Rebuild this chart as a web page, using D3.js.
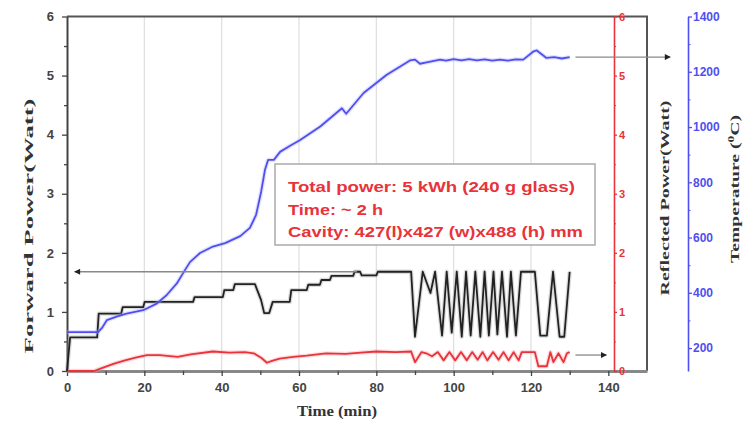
<!DOCTYPE html>
<html>
<head>
<meta charset="utf-8">
<script src="https://cdn.jsdelivr.net/npm/d3@7"></script>
<style>
  body { margin: 0; background: #fff; }
  svg { display: block; }
</style>
</head>
<body>
<div id="chart"></div>
<script>
// ---- data ----
const forwardTime  = [0, 0.8, 7.8, 8.2, 14, 14.4, 19.7, 20.1, 32.6, 33, 40.3, 40.7, 43, 43.4, 48.6, 50.2, 51, 52.3, 53.2, 57.6, 58, 62, 62.4, 65.4, 65.8, 68, 68.4, 74, 74.4, 75.8, 76.2, 80, 80.4, 89,
  90, 92, 94, 95.2, 97, 98.2, 99.5, 100.8, 102.1, 103.2, 104.4, 105.6, 106.9, 108, 109.1, 110.3, 111.3, 112.5, 113.8, 114.8, 116.1, 117.4, 121, 122.4, 124.1, 125.7, 127.4, 128.6, 130];
const forwardPower = [0, 0.57, 0.57, 0.97, 0.97, 1.08, 1.08, 1.17, 1.17, 1.25, 1.25, 1.37, 1.37, 1.47, 1.47, 1.2, 0.98, 0.98, 1.17, 1.17, 1.37, 1.37, 1.46, 1.46, 1.54, 1.54, 1.61, 1.61, 1.68, 1.68, 1.62, 1.62, 1.68, 1.68,
  0.58, 1.68, 1.32, 1.68, 0.6, 1.68, 0.65, 1.68, 0.58, 1.68, 0.6, 1.68, 0.58, 1.68, 0.6, 1.68, 0.62, 1.68, 0.58, 1.68, 0.6, 1.68, 1.68, 0.6, 0.6, 1.68, 0.58, 0.58, 1.68];

const reflectedTime  = [0, 7, 9, 12, 15, 18, 20.7, 24, 28.6, 32, 37.7, 42, 46, 48.3, 50.3, 51.7, 53, 55, 58.5, 62, 67, 72, 76, 80, 85, 89,
  90, 91.7, 92.9, 94.4, 95.9, 97.4, 98.9, 100.4, 101.9, 103.4, 104.8, 106.2, 107.5, 108.7, 110.2, 111.6, 112.9, 114.2, 115.5, 116.8, 117.6, 121, 121.9, 124.1, 125, 125.8, 127.1, 128.4, 129.3, 130];
const reflectedPower = [0, 0, 0.05, 0.12, 0.18, 0.23, 0.27, 0.27, 0.24, 0.28, 0.33, 0.31, 0.32, 0.3, 0.22, 0.14, 0.17, 0.21, 0.24, 0.26, 0.3, 0.29, 0.31, 0.33, 0.32, 0.33,
  0.15, 0.32, 0.3, 0.25, 0.32, 0.18, 0.32, 0.18, 0.32, 0.18, 0.32, 0.19, 0.32, 0.18, 0.32, 0.19, 0.32, 0.18, 0.32, 0.18, 0.32, 0.32, 0.08, 0.08, 0.32, 0.15, 0.3, 0.15, 0.3, 0.32];

const tempTime  = [0, 8, 9, 10.3, 13, 15.4, 19.7, 23.2, 25.8, 28.4, 30.5, 31.8, 34.4, 37.5, 40.9, 44.8, 47.3, 48.9, 50.2, 51.2, 52, 53.5, 55.1, 57.7, 60.3, 65.5, 71.1, 72.2, 76.7, 82.7, 88.7, 90, 91.3, 93, 96.5,
  98, 100, 102, 104, 106, 108, 110, 112, 114, 116, 118, 120.7, 121.5, 124, 126, 128, 130];
const temperature = [258, 258, 272, 301, 315, 325, 337, 361, 392, 434, 482, 511, 544, 566, 580, 605, 635, 682, 765, 845, 881, 881, 910, 932, 953, 1002, 1068, 1048, 1123, 1189, 1241, 1244, 1229, 1234, 1244,
  1240, 1246, 1241, 1246, 1241, 1245, 1240, 1244, 1240, 1245, 1244, 1274, 1277, 1250, 1253, 1248, 1253];

const xTicks = [0, 20, 40, 60, 80, 100, 120, 140];
const powerTicks = [0, 1, 2, 3, 4, 5, 6];
const tempTicks = [200, 400, 600, 800, 1000, 1200, 1400];
const notes = ["Total power: 5 kWh (240 g glass)", "Time: ~ 2 h", "Cavity: 427(l)x427 (w)x488 (h) mm"];

// ---- layout ----
const W = 752, H = 429;
const plotL = 67, plotR = 647, plotT = 16.5, plotB = 371;
const redAxisX = 614, blueAxisX = 688;

const svg = d3.select("#chart").append("svg").attr("width", W).attr("height", H);

const x = d3.scaleLinear().domain([0, 150]).range([plotL, plotR]);
const yL = d3.scaleLinear().domain([0, 6]).range([plotB, plotT]);
const yR = d3.scaleLinear().domain([0, 6]).range([plotB, plotT]);
const yT = d3.scaleLinear().domain([117, 1400]).range([plotB, plotT]);

const sans = "'Liberation Sans', Arial, sans-serif";
const serif = "'Liberation Serif', 'Times New Roman', serif";
const red = "#e8333b", blue = "#4f4ff0";
const fmt = d3.format("d");

// vertical grid
svg.append("g").selectAll("line").data([20, 40, 60, 80, 100, 120]).join("line")
  .attr("x1", d => x(d)).attr("x2", d => x(d))
  .attr("y1", plotT).attr("y2", plotB)
  .attr("stroke", "#dedede").attr("stroke-width", 1.2);

// frame top/right
svg.append("path")
  .attr("d", `M${plotL},${plotT}H${plotR}V${plotB}`)
  .attr("fill", "none").attr("stroke", "#555").attr("stroke-width", 2);

function styleAxis(g, color, size) {
  g.select(".domain").attr("stroke", color).attr("stroke-width", 2);
  g.selectAll(".tick line").attr("stroke", color).attr("stroke-width", 1.3);
  g.selectAll(".tick text").attr("fill", color).attr("font-family", sans)
    .attr("font-weight", "bold").attr("font-size", size);
}

// bottom axis
const gx = svg.append("g").attr("transform", `translate(0,${plotB})`)
  .call(d3.axisBottom(x).tickValues(xTicks).tickFormat(fmt).tickSize(5).tickSizeOuter(0).tickPadding(7));
styleAxis(gx, "#444", "13px");
gx.select(".domain").attr("stroke", "#888").attr("stroke-width", 3);
svg.append("g").attr("transform", `translate(0,${plotB})`)
  .call(d3.axisBottom(x).tickValues([10, 30, 50, 70, 90, 110, 130]).tickSize(4).tickFormat(""))
  .call(g => g.select(".domain").remove())
  .call(g => g.selectAll("line").attr("stroke", "#444").attr("stroke-width", 1.3));

// left axis
const gl = svg.append("g").attr("transform", `translate(${plotL},0)`)
  .call(d3.axisLeft(yL).tickValues(powerTicks).tickFormat(fmt).tickSize(5).tickSizeOuter(0).tickPadding(8));
styleAxis(gl, "#444", "13px");
svg.append("g").attr("transform", `translate(${plotL},0)`)
  .call(d3.axisLeft(yL).tickValues([0.5, 1.5, 2.5, 3.5, 4.5, 5.5]).tickSize(3).tickFormat(""))
  .call(g => g.select(".domain").remove())
  .call(g => g.selectAll("line").attr("stroke", "#444").attr("stroke-width", 1.3));

// red (reflected) axis
const gr = svg.append("g").attr("transform", `translate(${redAxisX},0)`)
  .call(d3.axisRight(yR).tickValues(powerTicks).tickFormat(fmt).tickSize(3).tickSizeOuter(0).tickPadding(2));
styleAxis(gr, red, "11px");
gr.select(".domain").attr("stroke-width", 1.6);
svg.append("g").attr("transform", `translate(${redAxisX},0)`)
  .call(d3.axisRight(yR).tickValues([0.5, 1.5, 2.5, 3.5, 4.5, 5.5]).tickSize(2).tickFormat(""))
  .call(g => g.select(".domain").remove())
  .call(g => g.selectAll("line").attr("stroke", red));

// blue (temperature) axis
const gt = svg.append("g").attr("transform", `translate(${blueAxisX},0)`)
  .call(d3.axisRight(yT).tickValues(tempTicks).tickFormat(fmt).tickSize(4).tickSizeOuter(0).tickPadding(1));
styleAxis(gt, blue, "12px");
gt.select(".domain").attr("stroke-width", 1.6);
svg.append("g").attr("transform", `translate(${blueAxisX},0)`)
  .call(d3.axisRight(yT).tickValues([300, 500, 700, 900, 1100, 1300]).tickSize(2.5).tickFormat(""))
  .call(g => g.select(".domain").remove())
  .call(g => g.selectAll("line").attr("stroke", blue));

// series
const line = (ys) => d3.line().x(d => x(d[0])).y(d => ys(d[1]));
function drawSeries(t, v, ys, color, halo, width) {
  const pts = d3.zip(t, v);
  svg.append("path").datum(pts).attr("d", line(ys))
    .attr("fill", "none").attr("stroke", halo).attr("stroke-width", width + 2.5)
    .attr("stroke-linejoin", "round").attr("opacity", 0.35);
  svg.append("path").datum(pts).attr("d", line(ys))
    .attr("fill", "none").attr("stroke", color).attr("stroke-width", width)
    .attr("stroke-linejoin", "round");
}
drawSeries(reflectedTime, reflectedPower, yR, red, "#f59aa0", 1.8);
drawSeries(forwardTime, forwardPower, yL, "#222", "#999", 1.8);
drawSeries(tempTime, temperature, yT, blue, "#a8a8ff", 1.8);

// arrows
const defs = svg.append("defs");
defs.append("marker").attr("id", "arrow").attr("viewBox", "0 0 10 10")
  .attr("refX", 9).attr("refY", 5).attr("markerWidth", 7).attr("markerHeight", 6)
  .attr("markerUnits", "userSpaceOnUse").attr("orient", "auto")
  .append("path").attr("d", "M0,0L10,5L0,10Z").attr("fill", "#222");
const arrows = [
  { x1: x(75), x2: x(2), y: yL(1.68) },
  { x1: x(131.5), x2: x(156), y: yT(1253) },
  { x1: x(131.5), x2: x(139.5), y: yR(0.27) }
];
svg.append("g").selectAll("line").data(arrows).join("line")
  .attr("x1", d => d.x1).attr("x2", d => d.x2).attr("y1", d => d.y).attr("y2", d => d.y)
  .attr("stroke", "#888").attr("stroke-width", 1.3).attr("marker-end", "url(#arrow)");

// annotation box
const box = svg.append("g");
box.append("rect").attr("x", 275).attr("y", 164).attr("width", 320).attr("height", 81)
  .attr("fill", "#fff").attr("stroke", "#aaa").attr("stroke-width", 1.5);
const noteLen = [287, 95, 295];
box.selectAll("text").data(notes).join("text")
  .attr("x", 288).attr("y", (d, i) => 192 + i * 22.5)
  .attr("fill", red).attr("font-family", sans).attr("font-weight", "bold").attr("font-size", "15px")
  .attr("textLength", (d, i) => noteLen[i]).attr("lengthAdjust", "spacingAndGlyphs")
  .text(d => d);

// axis titles
const title = (tx, ty, rot, txt, len, size) => svg.append("text")
  .attr("transform", `translate(${tx},${ty}) rotate(${rot})`)
  .attr("text-anchor", "middle").attr("fill", "#333")
  .attr("font-family", serif).attr("font-weight", "bold").attr("font-size", size)
  .attr("textLength", len).attr("lengthAdjust", "spacingAndGlyphs")
  .text(txt);
title(337, 416, 0, "Time (min)", 80, "15px");
title(33, 226, -90, "Forward Power(Watt)", 255, "13px");
title(669, 198, -90, "Reflected Power(Watt)", 195, "13px");
const tt = svg.append("text")
  .attr("transform", `translate(739,189) rotate(-90)`)
  .attr("text-anchor", "middle").attr("fill", "#333")
  .attr("font-family", serif).attr("font-weight", "bold").attr("font-size", "13px")
  .attr("textLength", 148).attr("lengthAdjust", "spacingAndGlyphs");
tt.append("tspan").text("Temperature (");
tt.append("tspan").attr("baseline-shift", "super").attr("font-size", "9px").text("0");
tt.append("tspan").text("C)");
</script>
</body>
</html>
